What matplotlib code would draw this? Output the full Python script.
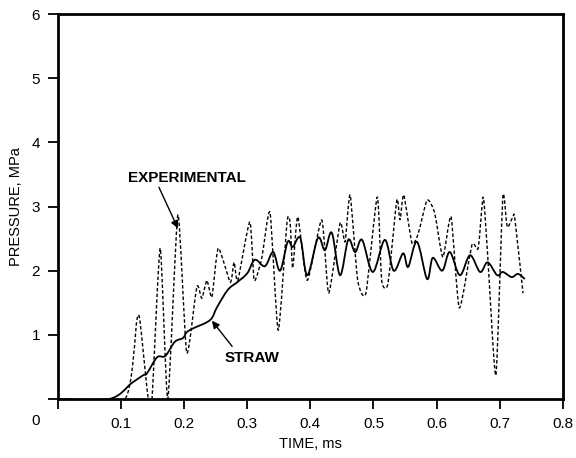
import matplotlib
matplotlib.use('Agg')
import matplotlib.pyplot as plt
from matplotlib.path import Path
from matplotlib.patches import PathPatch
from matplotlib.transforms import offset_copy

plt.rcParams['font.family'] = ['Liberation Sans', 'DejaVu Sans']

# STRAW code prediction (solid)
straw_t = [0.0, 0.081, 0.117, 0.135, 0.141, 0.157, 0.170, 0.185, 0.198, 0.204, 0.214,
           0.241, 0.252, 0.269, 0.284, 0.300, 0.312, 0.328, 0.341, 0.352, 0.364, 0.372,
           0.384, 0.395, 0.412, 0.423, 0.434, 0.447, 0.460, 0.471, 0.482, 0.499, 0.518,
           0.532, 0.547, 0.555, 0.569, 0.585, 0.594, 0.609, 0.621, 0.637, 0.653, 0.669,
           0.681, 0.696, 0.705, 0.719, 0.729, 0.740]
straw_p = [0.0, 0.0, 0.25, 0.37, 0.40, 0.65, 0.67, 0.89, 0.95, 1.04, 1.10,
           1.23, 1.43, 1.70, 1.82, 1.96, 2.17, 2.07, 2.29, 2.00, 2.45, 2.37,
           2.51, 1.93, 2.51, 2.32, 2.59, 1.93, 2.48, 2.29, 2.48, 1.98, 2.48,
           2.00, 2.27, 2.06, 2.45, 1.87, 2.20, 2.00, 2.29, 1.93, 2.24, 1.98,
           2.13, 1.93, 1.98, 1.90, 1.95, 1.87]

# measured pressure (dashed)
exp_t = [0.0, 0.106, 0.125, 0.130, 0.143, 0.149, 0.162, 0.174, 0.190, 0.204, 0.220,
         0.228, 0.236, 0.244, 0.254, 0.273, 0.279, 0.285, 0.304, 0.311, 0.323, 0.336,
         0.349, 0.363, 0.368, 0.372, 0.380, 0.395, 0.418, 0.429, 0.447, 0.455, 0.463,
         0.475, 0.488, 0.506, 0.513, 0.523, 0.537, 0.542, 0.548, 0.561, 0.571, 0.585,
         0.597, 0.610, 0.623, 0.636, 0.656, 0.666, 0.674, 0.681, 0.694, 0.705, 0.712,
         0.721, 0.724, 0.737]
exp_p = [0.0, 0.0, 1.23, 1.21, 0.0, 0.0, 2.35, 0.0, 2.87, 0.72, 1.75,
         1.57, 1.85, 1.59, 2.35, 1.82, 2.13, 1.85, 2.76, 1.85, 2.20, 2.91,
         1.07, 2.76, 2.74, 2.04, 2.84, 1.85, 2.79, 1.65, 2.74, 2.45, 3.18,
         1.85, 1.65, 3.15, 1.85, 1.80, 3.10, 2.79, 3.18, 2.43, 2.58, 3.10,
         2.90, 2.21, 2.84, 1.42, 2.40, 2.35, 3.15, 2.24, 0.37, 3.15, 2.68,
         2.84, 2.82, 1.65]

x_ticks = [0.1, 0.2, 0.3, 0.4, 0.5, 0.6, 0.7, 0.8]
y_ticks = [0, 1, 2, 3, 4, 5, 6]


def smooth_path(xs, ys, k=1 / 6):
    # Catmull-Rom through the points, written as cubic Bezier segments
    verts = [(xs[0], ys[0])]
    codes = [Path.MOVETO]
    n = len(xs)
    for i in range(n - 1):
        x0, y0 = xs[max(i - 1, 0)], ys[max(i - 1, 0)]
        x1, y1 = xs[i], ys[i]
        x2, y2 = xs[i + 1], ys[i + 1]
        x3, y3 = xs[min(i + 2, n - 1)], ys[min(i + 2, n - 1)]
        c1 = (x1 + (x2 - x0) * k, y1 + (y2 - y0) * k)
        c2 = (x2 - (x3 - x1) * k, y2 - (y3 - y1) * k)
        verts += [c1, c2, (x2, y2)]
        codes += [Path.CURVE4] * 3
    return Path(verts, codes)


fig = plt.figure(figsize=(5.76, 4.58), dpi=100)
ax = fig.add_axes([0.1007, 0.1288, 0.8763, 0.8406])

ax.add_patch(PathPatch(smooth_path(straw_t, straw_p), fill=False,
                       edgecolor='black', lw=1.3))
ax.add_patch(PathPatch(smooth_path(exp_t, exp_p, k=0.1), fill=False,
                       edgecolor='black', lw=1.0, linestyle=(0, (2.5, 1.6))))

ax.set_xlim(0, 0.8)
ax.set_ylim(0, 6)
ax.set_xticks([0] + x_ticks)
ax.set_xticklabels([''] + [('%.1f' % t) for t in x_ticks])
ax.set_yticks(y_ticks)
ax.set_yticklabels([''] + [str(v) for v in y_ticks[1:]])
ax.tick_params(direction='out', length=7, width=1.3, labelsize=11, pad=6)

# origin label sits to the left of the corner
ax.text(0, 0, '0', transform=offset_copy(ax.transData, fig=fig, x=-22, y=-22, units='dots'),
        ha='center', va='center', fontsize=11)

for s in ax.spines.values():
    s.set_linewidth(2.0)

ax.set_xlabel('TIME, ms', fontsize=10.5, labelpad=4)
ax.set_ylabel('PRESSURE, MPa', fontsize=10.5, labelpad=6)

arrow = dict(arrowstyle='-|>', color='black', lw=1.0, mutation_scale=11,
             shrinkA=0, shrinkB=0)
ax.text(0.204, 3.44, 'EXPERIMENTAL', ha='center', va='center',
        fontsize=11, fontweight='bold')
ax.annotate('', xy=(0.190, 2.66), xytext=(0.160, 3.30), arrowprops=arrow)
ax.text(0.307, 0.64, 'STRAW', ha='center', va='center',
        fontsize=11, fontweight='bold')
ax.annotate('', xy=(0.244, 1.22), xytext=(0.276, 0.82), arrowprops=arrow)

fig.savefig('out.png', dpi=100)
